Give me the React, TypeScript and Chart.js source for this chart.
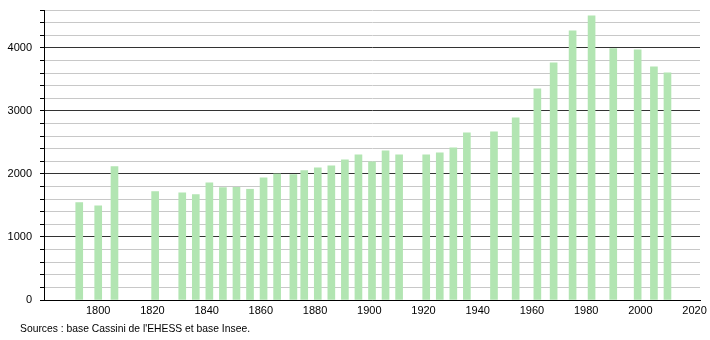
import React, { useEffect, useRef } from "react";
import { Chart, registerables } from "chart.js";

Chart.register(...registerables);

const years = [
  1793, 1800, 1806, 1821, 1831, 1836, 1841, 1846, 1851, 1856, 1861, 1866, 1872, 1876, 1881, 1886,
  1891, 1896, 1901, 1906, 1911, 1921, 1926, 1931, 1936, 1946, 1954, 1962, 1968, 1975, 1982, 1990,
  1999, 2005, 2010,
];
const population = [
  1545, 1492, 2116, 1720, 1698, 1672, 1857, 1783, 1789, 1757, 1937, 2000, 1989, 2053, 2095, 2127,
  2222, 2302, 2190, 2365, 2302, 2302, 2333, 2413, 2651, 2667, 2889, 3349, 3762, 4270, 4508, 3989,
  3968, 3698, 3603,
];
const xTickYears = [1800, 1820, 1840, 1860, 1880, 1900, 1920, 1940, 1960, 1980, 2000, 2020];
const yTickValues = [
  0, 200, 400, 600, 800, 1000, 1200, 1400, 1600, 1800, 2000, 2200, 2400, 2600, 2800, 3000, 3200,
  3400, 3600, 3800, 4000, 4200, 4400, 4600,
];
const sourceText = "Sources : base Cassini de l'EHESS et base Insee.";
const FONT = "'Liberation Sans', Arial, sans-serif";

export default function App() {
  const ref = useRef<HTMLCanvasElement | null>(null);
  useEffect(() => {
    if (!ref.current) return;
    const sourcePlugin = {
      id: "sourceText",
      afterDraw(chart: any) {
        const c = chart.ctx;
        c.save();
        c.font = `11px ${FONT}`;
        c.fillStyle = "#000";
        c.textAlign = "left";
        c.textBaseline = "middle";
        c.fillText(sourceText, 20, 329, 230);
        c.restore();
      },
    };
    const chart = new Chart(ref.current, {
      type: "bar",
      data: {
        datasets: [
          {
            data: years.map((y, i) => ({ x: y, y: population[i] })),
            backgroundColor: "#b2e5b2",
            borderWidth: 0,
            barThickness: 7,
          },
        ],
      },
      options: {
        responsive: false,
        animation: false,
        maintainAspectRatio: false,
        layout: { padding: { left: 0, right: 10, top: 10, bottom: 0 } },
        plugins: { legend: { display: false }, tooltip: { enabled: false } },
        scales: {
          x: {
            type: "linear",
            min: 1780,
            max: 2022,
            offset: false,
            grid: { display: false, drawTicks: false },
            border: { display: true, color: "#000", width: 1 },
            afterBuildTicks: (s: any) => {
              s.ticks = xTickYears.map((v) => ({ value: v }));
            },
            ticks: {
              color: "#000",
              font: { family: FONT, size: 11 },
              padding: 4,
              maxRotation: 0,
              autoSkip: false,
              callback: (v: any) => String(v),
            },
            afterFit: (s: any) => {
              s.height = 40;
              s.paddingLeft = 0;
              s.paddingRight = 0;
            },
          },
          y: {
            min: 0,
            max: 4600,
            afterBuildTicks: (s: any) => {
              s.ticks = yTickValues.map((v) => ({ value: v }));
            },
            grid: {
              color: (ctx: any) => (ctx.tick && ctx.tick.value % 1000 === 0 ? "#333" : "#c8c8c8"),
              tickColor: "#000",
              tickLength: 4,
              lineWidth: 1,
            },
            border: { display: true, color: "#000", width: 1 },
            ticks: {
              color: "#000",
              font: { family: FONT, size: 11 },
              padding: 8,
              autoSkip: false,
              callback: (v: any) => (v % 1000 === 0 ? String(v) : ""),
            },
            afterFit: (s: any) => {
              s.width = 44;
              s.paddingTop = 0;
              s.paddingBottom = 0;
            },
          },
        },
      },
      plugins: [sourcePlugin],
    });
    return () => chart.destroy();
  }, []);
  return (
    <div style={{ position: "fixed", left: 0, top: 0, width: 710, height: 340, background: "#fff" }}>
      <canvas ref={ref} width={710} height={340} style={{ width: 710, height: 340 }} />
    </div>
  );
}
